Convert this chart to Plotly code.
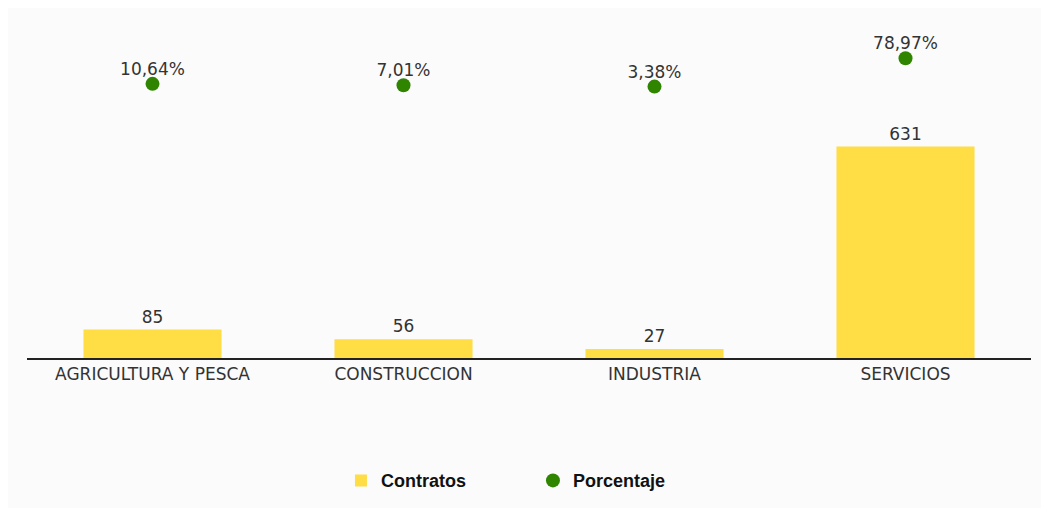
import plotly.graph_objects as go

# --- datos ---
sectores = ["AGRICULTURA Y PESCA", "CONSTRUCCION", "INDUSTRIA", "SERVICIOS"]
contratos = [85, 56, 27, 631]
porcentaje = [10.64, 7.01, 3.38, 78.97]
etiquetas_pct = ["10,64%", "7,01%", "3,38%", "78,97%"]

AMARILLO = "#FFDD44"
VERDE = "#2F8500"
TEXTO = "#333333"
FUENTE = "DejaVu Sans"

fig = go.Figure()

# barras de contratos
fig.add_trace(go.Bar(
    x=sectores, y=contratos, name="Contratos",
    marker=dict(color=AMARILLO, line=dict(width=0)),
    width=0.55,
    text=contratos, textposition="outside",
    textfont=dict(family=FUENTE, size=17, color=TEXTO),
    cliponaxis=False,
))

# puntos de porcentaje (eje secundario)
fig.add_trace(go.Scatter(
    x=sectores, y=porcentaje, name="Porcentaje", yaxis="y2",
    mode="markers",
    marker=dict(color=VERDE, size=14),
    cliponaxis=False,
))
# etiquetas de porcentaje, un poco mas cerca del punto
fig.add_trace(go.Scatter(
    x=sectores, y=porcentaje, yaxis="y2", showlegend=False,
    mode="markers+text", hoverinfo="skip",
    marker=dict(color=VERDE, size=6, opacity=0),
    text=etiquetas_pct, textposition="top center",
    textfont=dict(family=FUENTE, size=17, color=TEXTO),
    cliponaxis=False,
))

fig.update_layout(
    width=1033, height=500,
    margin=dict(l=19, r=10, t=12, b=149),
    paper_bgcolor="#FBFBFB",
    plot_bgcolor="rgba(0,0,0,0)",
    showlegend=True,
    xaxis=dict(
        showline=True, linecolor="#222222", linewidth=2,
        showgrid=False, zeroline=False, ticks="",
        tickfont=dict(family=FUENTE, size=17, color=TEXTO),
        range=[-0.5, 3.5],
    ),
    yaxis=dict(range=[0, 1009], visible=False, showgrid=False, zeroline=False),
    yaxis2=dict(range=[-720.6, 181.0], overlaying="y", visible=False,
                showgrid=False, zeroline=False),
    legend=dict(
        orientation="h", x=0.3127, xanchor="left", y=-0.359, yanchor="middle",
        font=dict(family="Liberation Sans", size=18, color="#111111", weight="bold"),
        bgcolor="rgba(0,0,0,0)", entrywidth=147,
    ),
)

fig.write_html("out.html")
